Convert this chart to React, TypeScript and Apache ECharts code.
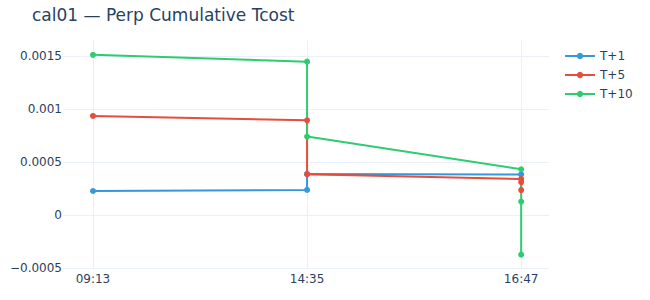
import React, { useEffect, useRef } from "react";
import * as echarts from "echarts";

const title = "cal01 — Perp Cumulative Tcost";
const categories = ["09:13", "14:35", "16:47"];
const yTicks = [-0.0005, 0, 0.0005, 0.001, 0.0015];

// [category index, value] — several points may share the same category
const seriesNames = ["T+1", "T+5", "T+10"];
const colors = ["#3498db", "#e74c3c", "#2ecc71"];
const t1X = [0, 1, 1, 2];
const t1Y = [0.000226, 0.000236, 0.000387, 0.000382];
const t5X = [0, 1, 1, 2, 2, 2];
const t5Y = [0.000934, 0.000893, 0.000384, 0.00034, 0.00031, 0.000235];
const t10X = [0, 1, 1, 2, 2, 2];
const t10Y = [0.00151, 0.001446, 0.000739, 0.000431, -0.000374, 0.000126];

const xs = [t1X, t5X, t10X];
const ys = [t1Y, t5Y, t10Y];

export default function App() {
  const ref = useRef<HTMLDivElement>(null);
  useEffect(() => {
    if (!ref.current) return;
    const chart = echarts.init(ref.current, null, { renderer: "svg" });
    const font = "Verdana, 'DejaVu Sans', sans-serif";
    const grid = "#EBF0F8";
    const txt = "#2a3f5f";
    chart.setOption({
      animation: false,
      textStyle: { fontFamily: font },
      title: {
        text: title,
        left: 27,
        top: 1,
        textStyle: { fontFamily: font, fontSize: 17, fontWeight: "normal", color: txt },
      },
      legend: {
        orient: "vertical",
        left: 559,
        top: 45,
        itemWidth: 30,
        itemHeight: 8,
        itemGap: 7,
        textStyle: { fontFamily: font, fontSize: 12, color: txt },
        data: seriesNames,
      },
      grid: { left: 63, right: 101, top: 40, bottom: 32, containLabel: false },
      xAxis: {
        type: "value",
        min: -0.14,
        max: 2.13,
        axisLine: { show: false },
        axisTick: { show: false, customValues: [0, 1, 2] },
        axisLabel: {
          customValues: [0, 1, 2],
          formatter: (v: number) => categories[Math.round(v)] ?? "",
          color: txt,
          fontSize: 12,
          fontFamily: font,
          margin: 5,
        },
        splitLine: { show: true, lineStyle: { color: grid, width: 1 } },
      },
      yAxis: {
        type: "value",
        min: -0.0005,
        max: 0.00165,
        axisLine: { show: false },
        axisTick: { show: false, customValues: yTicks },
        axisLabel: {
          customValues: yTicks,
          formatter: (v: number) => String(v).replace("-", "\u2212"),
          color: txt,
          fontSize: 12,
          fontFamily: font,
          margin: 1,
        },
        splitLine: { show: true, lineStyle: { color: grid, width: 1 } },
      },
      series: seriesNames.map((name, i) => ({
        name,
        type: "line",
        data: xs[i].map((x, j) => [x, ys[i][j]]),
        symbol: "circle",
        symbolSize: 6,
        showSymbol: true,
        itemStyle: { color: colors[i] },
        lineStyle: { color: colors[i], width: 2 },
      })),
    });
    return () => chart.dispose();
  }, []);
  return <div ref={ref} style={{ width: 650, height: 300, position: "absolute", left: 0, top: 0 }} />;
}
